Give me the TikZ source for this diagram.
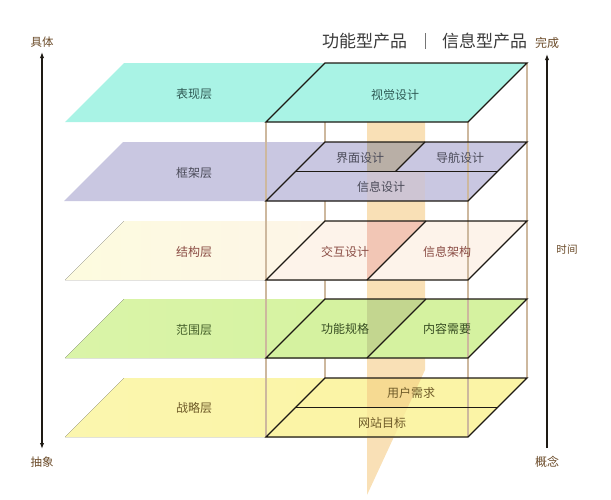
\documentclass[tikz,border=0pt]{standalone}
\usepackage{fontspec}
\setmainfont{Noto Sans CJK SC}
\usetikzlibrary{arrows.meta}
\definecolor{cyanL}{HTML}{A9F3E5}
\definecolor{lavL}{HTML}{C9C7E1}
\definecolor{peachL}{HTML}{FDF3EA}
\definecolor{peachB}{HTML}{FDF8EC}
\definecolor{greenL}{HTML}{D5F2A0}
\definecolor{greenB}{HTML}{DAF4A8}
\definecolor{yellowL}{HTML}{FBF4A6}
\definecolor{yellowB}{HTML}{FBF6AE}
\definecolor{stripC}{HTML}{F9E0B6}
\definecolor{ovA}{HTML}{B9AFA6}
\definecolor{ovB}{HTML}{CEC5D3}
\definecolor{ovC}{HTML}{F2C6B5}
\definecolor{ovD}{HTML}{C3D68F}
\definecolor{ovE}{HTML}{F6DA92}
\definecolor{ovF}{HTML}{F9EA9E}
\definecolor{tanC}{HTML}{CDB89E}
\definecolor{edgeC}{HTML}{1E1A14}
\definecolor{axisC}{HTML}{6A4A28}
\definecolor{tealT}{HTML}{2F5A55}
\definecolor{purT}{HTML}{4A4A58}
\definecolor{redT}{HTML}{8A4C44}
\definecolor{greenT}{HTML}{45602A}
\definecolor{oliveT}{HTML}{6E5A28}
\definecolor{titleT}{HTML}{3A3A3A}
\tikzset{
  layeredge/.style={draw=edgeC, line width=1pt, line join=miter},
  boxline/.style={draw=tanC, line width=0.8pt},
  lab/.style={font=\fontsize{9}{10}\selectfont, inner sep=0pt},
  axislab/.style={font=\fontsize{8.6}{10}\selectfont, text=axisC, inner sep=0pt},
  titlelab/.style={font=\fontsize{12.75}{14}\selectfont, text=titleT, inner sep=0pt},
  axisarrow/.style={draw=edgeC, line width=0.8pt, -{Latex[length=4.5pt,width=3.2pt]}}
}
\begin{document}
\begin{tikzpicture}[x=0.75pt,y=-0.75pt]
\useasboundingbox (0,0) rectangle (611,500);

% left backings
\fill[cyanL] (65,122) -- (124,63) -- (400,63) -- (400,122) -- cycle;
\fill[lavL] (64,201) -- (123,142) -- (400,142) -- (400,201) -- cycle;
\fill[left color=yellowB!40!white, right color=peachL] (65,280) -- (124,221) -- (400,221) -- (400,280) -- cycle;
\fill[left color=greenB, right color=greenL] (65,358) -- (124,299) -- (400,299) -- (400,358) -- cycle;
\fill[left color=yellowB, right color=yellowL] (65,437) -- (124,378) -- (400,378) -- (400,437) -- cycle;

% strip
\fill[stripC] (367,122) -- (425,122) -- (425,370) -- (367,495) -- cycle;

% back box lines (hidden by the layers)
\coordinate (b2t) at (325,63);  \coordinate (b2b) at (325,378);
\coordinate (b4t) at (527,63);  \coordinate (b4b) at (527,378);
\draw[boxline] (b2t) -- (b2b);
\draw[boxline] (b4t) -- (b4b);

% main layer fills
\fill[cyanL] (266,122) -- (325,63) -- (527,63) -- (468,122) -- cycle;
\fill[lavL] (266,201) -- (325,142) -- (527,142) -- (468,201) -- cycle;
\fill[peachL] (266,280) -- (325,221) -- (527,221) -- (468,280) -- cycle;
\fill[greenL] (266,358) -- (325,299) -- (527,299) -- (468,358) -- cycle;
\fill[yellowL] (266,437) -- (325,378) -- (527,378) -- (468,437) -- cycle;

% strip seen through the layers
\fill[ovA] (367,171.5) -- (367,142) -- (425,142) -- (395.5,171.5) -- cycle;
\fill[ovB] (367,171.5) rectangle (425,201);
\fill[ovC] (367,280) -- (367,221) -- (425,221) -- cycle;
\fill[ovD] (367,358) -- (367,299) -- (425,299) -- cycle;
\fill[ovE] (367,378) -- (421.3,378) -- (407.6,407.5) -- (367,407.5) -- cycle;
\fill[ovF] (367,407.5) -- (407.6,407.5) -- (393.9,437) -- (367,437) -- cycle;

% front box lines
\coordinate (b1t) at (266,122); \coordinate (b1b) at (266,437);
\coordinate (b3t) at (468,122); \coordinate (b3b) at (468,437);
\draw[boxline] (b1t) -- (b1b);
\draw[boxline] (b3t) -- (b3b);

% layer edges
\draw[layeredge] (266,122) -- (325,63) -- (527,63) -- (468,122) -- cycle;
\draw[layeredge] (266,201) -- (325,142) -- (527,142) -- (468,201) -- cycle;
\draw[layeredge] (295.5,171.5) -- (497.5,171.5);
\draw[layeredge] (395.5,171.5) -- (425,142);
\draw[layeredge] (266,280) -- (325,221) -- (527,221) -- (468,280) -- cycle;
\draw[layeredge] (367,280) -- (426,221);
\draw[layeredge] (266,358) -- (325,299) -- (527,299) -- (468,358) -- cycle;
\draw[layeredge] (367,358) -- (426,299);
\draw[layeredge] (266,437) -- (325,378) -- (527,378) -- (468,437) -- cycle;
\draw[layeredge] (295.5,407.5) -- (497.5,407.5);

% layer labels
\node[lab, text=tealT] (l1) at (194,94) {表现层};
\node[lab, text=purT] (l2) at (194,173) {框架层};
\node[lab, text=redT] (l3) at (194,252) {结构层};
\node[lab, text=greenT] (l4) at (194,330) {范围层};
\node[lab, text=oliveT] (l5) at (194,408) {战略层};

\node[lab, text=tealT] (p1) at (395,95) {视觉设计};
\node[lab, text=purT] (p2a) at (360,158) {界面设计};
\node[lab, text=purT] (p2b) at (460,158) {导航设计};
\node[lab, text=purT] (p2c) at (381,187) {信息设计};
\node[lab, text=redT] (p3a) at (345,252) {交互设计};
\node[lab, text=redT] (p3b) at (447,252) {信息架构};
\node[lab, text=greenT!80!black] (p4a) at (345,329) {功能规格};
\node[lab, text=greenT!80!black] (p4b) at (447,329) {内容需要};
\node[lab, text=oliveT] (p5a) at (411,393) {用户需求};
\node[lab, text=oliveT] (p5b) at (382,423) {网站目标};

% title
\node[titlelab] (t1) at (364.5,41) {功能型产品};
\node[titlelab] (t2) at (484.5,41) {信息型产品};
\coordinate (s1) at (425,33); \coordinate (s2) at (425,48.5);
\draw[draw=titleT!70!white, line width=0.6pt] (s1) -- (s2);

% axes
\node[axislab] (ju) at (42,42) {具体};
\node[axislab] (chou) at (42,462) {抽象};
\node[axislab, font=\fontsize{9}{10}\selectfont] (wan) at (547,43) {完成};
\node[axislab, font=\fontsize{9}{10}\selectfont] (gai) at (547,462) {概念};
\node[axislab, font=\fontsize{7.9}{9}\selectfont] (shi) at (567,250) {时间};
\coordinate (la) at (42,52); \coordinate (lb) at (42,449);
\coordinate (ra) at (547,54); \coordinate (rb) at (547,448);
\draw[axisarrow, {Latex[length=4.5pt,width=3.2pt]}-{Latex[length=4.5pt,width=3.2pt]}] (la) -- (lb);
\draw[axisarrow] (rb) -- (ra);
\end{tikzpicture}
\end{document}
